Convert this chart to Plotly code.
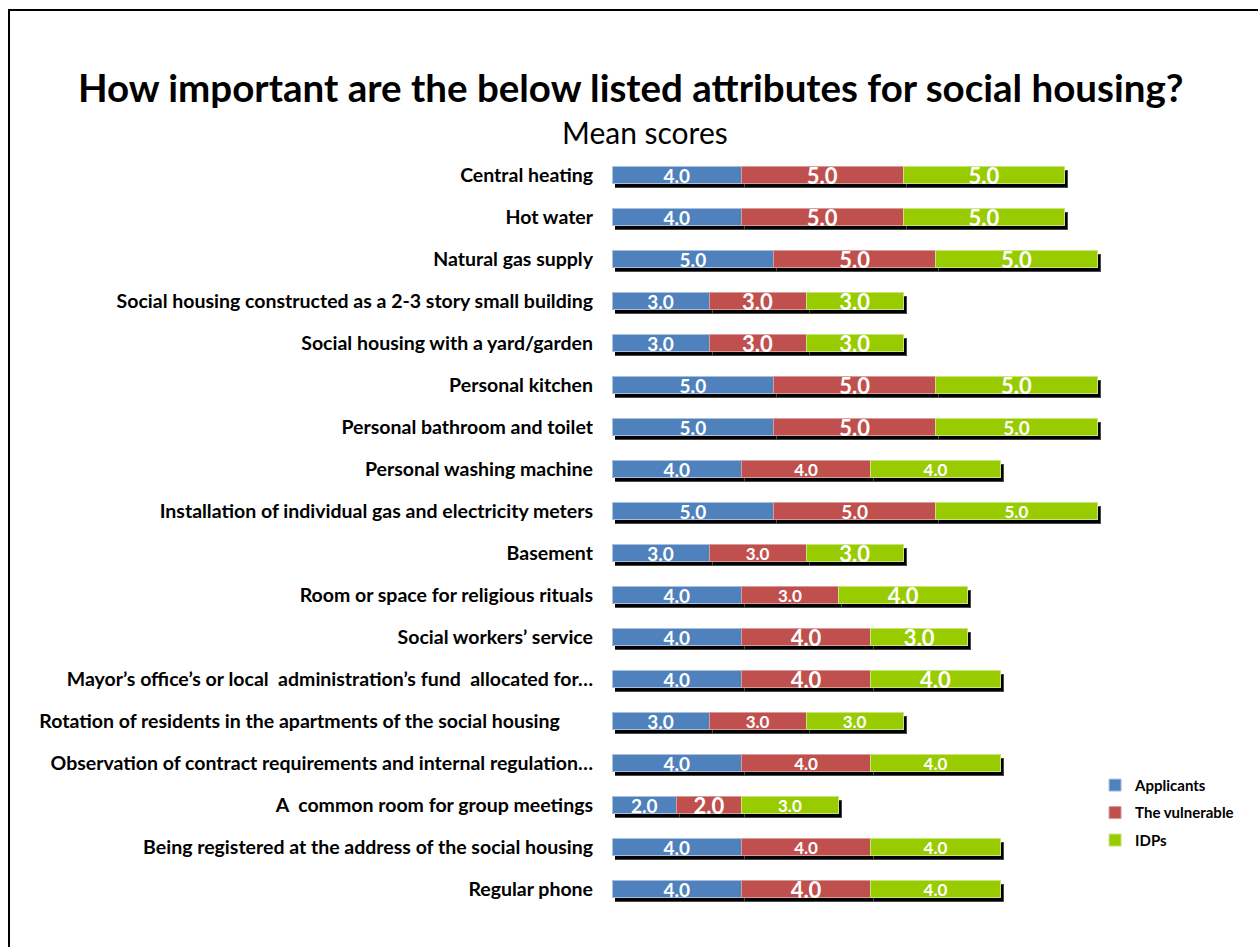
import plotly.graph_objects as go

# Attributes, listed top to bottom
attributes = [
    "Central heating",
    "Hot water",
    "Natural gas supply",
    "Social housing constructed as a 2-3 story small building",
    "Social housing with a yard/garden",
    "Personal kitchen",
    "Personal bathroom and toilet",
    "Personal washing machine",
    "Installation of individual gas and electricity meters",
    "Basement",
    "Room or space for religious rituals",
    "Social workers’ service",
    "Mayor’s office’s or local  administration’s fund  allocated for…",
    "Rotation of residents in the apartments of the social housing       ",
    "Observation of contract requirements and internal regulation…",
    "A  common room for group meetings",
    "Being registered at the address of the social housing",
    "Regular phone",
]

# Mean scores per group
applicants = [4, 4, 5, 3, 3, 5, 5, 4, 5, 3, 4, 4, 4, 3, 4, 2, 4, 4]
vulnerable = [5, 5, 5, 3, 3, 5, 5, 4, 5, 3, 3, 4, 4, 3, 4, 2, 4, 4]
idps = [5, 5, 5, 3, 3, 5, 5, 4, 5, 3, 4, 3, 4, 3, 4, 3, 4, 4]

# Font sizes of the value labels inside each segment
applicants_label_size = [19] * 18
vulnerable_label_size = [22, 22, 22, 22, 22, 22, 22, 17, 19, 17, 17, 22, 22, 17, 17, 22, 17, 22]
idps_label_size = [22, 22, 22, 22, 22, 22, 19, 17, 17, 22, 22, 22, 22, 17, 17, 17, 17, 17]

series_names = ["Applicants", "The vulnerable", "IDPs"]
series_colors = ["#4F81BD", "#C0504D", "#99CC00"]
series_edges = ["#A7C0E0", "#D99A98", "#C6E57A"]

FONT = "Lato"
BAR_W = 0.40

fig = go.Figure()

series = [applicants, vulnerable, idps]
sizes = [applicants_label_size, vulnerable_label_size, idps_label_size]

# Drop shadow: the same stacked totals in black on a subplot sitting a few pixels right/down
for vals in series:
    fig.add_trace(go.Bar(
        y=attributes, x=vals, orientation="h",
        xaxis="x", yaxis="y",
        marker=dict(color="#000000", line=dict(color="#4a4a4a", width=1)),
        width=BAR_W, showlegend=False, hoverinfo="skip",
    ))

# Coloured stacked bars on the second subplot (drawn above the shadow)
for name, vals, color, edge, sz in zip(series_names, series, series_colors, series_edges, sizes):
    fig.add_trace(go.Bar(
        y=attributes, x=vals, orientation="h", name=name,
        xaxis="x2", yaxis="y2",
        legendgroup=name,
        marker=dict(color=color, line=dict(color=edge, width=1)),
        width=BAR_W,
        texttemplate="%{x:.1f}", textposition="inside",
        insidetextanchor="middle", constraintext="none",
        textfont=dict(family=FONT, color="white", size=sz, weight="bold"),
    ))

x_range = [0, 15.3]
fig.update_layout(
    barmode="stack",
    width=1258, height=947,
    margin=dict(l=612, r=148, t=154, b=33),
    plot_bgcolor="rgba(0,0,0,0)", paper_bgcolor="white",
    font=dict(family=FONT, color="black"),
    xaxis=dict(range=x_range, domain=[0.006, 1], anchor="y", visible=False, fixedrange=True),
    yaxis=dict(categoryorder="array", categoryarray=attributes, autorange="reversed",
               domain=[0, 0.99474], anchor="x", visible=False),
    xaxis2=dict(range=x_range, domain=[0, 0.994], anchor="y2", visible=False),
    yaxis2=dict(categoryorder="array", categoryarray=attributes, autorange="reversed",
                domain=[0.00526, 1], anchor="x2", side="left",
                showgrid=False, showline=False, zeroline=False, ticks="",
                ticklabelstandoff=18,
                tickfont=dict(family=FONT, size=19.5, color="black", weight="bold")),
    legend=dict(x=0.97, y=0.191, xanchor="left", yanchor="top",
                traceorder="grouped", tracegroupgap=5,
                font=dict(family=FONT, size=15, color="black", weight="bold")),
    annotations=[
        dict(text="<b>How important are the below listed attributes for social housing?</b>",
             xref="paper", yref="paper", x=(630 - 612) / 498, y=(914 - 87) / 760,
             xanchor="center", yanchor="middle", showarrow=False,
             font=dict(family=FONT, size=38.5, color="black")),
        dict(text="Mean scores",
             xref="paper", yref="paper", x=(645 - 612) / 498, y=(914 - 132) / 760,
             xanchor="center", yanchor="middle", showarrow=False,
             font=dict(family=FONT, size=30, color="black")),
    ],
    shapes=[
        dict(type="rect", xref="paper", yref="paper",
             x0=(9 - 612) / 498, x1=(1262 - 612) / 498,
             y0=(914 - 952) / 760, y1=(914 - 10) / 760,
             line=dict(color="black", width=2), fillcolor="rgba(0,0,0,0)", layer="below"),
    ],
)

fig.write_html("out.html")
